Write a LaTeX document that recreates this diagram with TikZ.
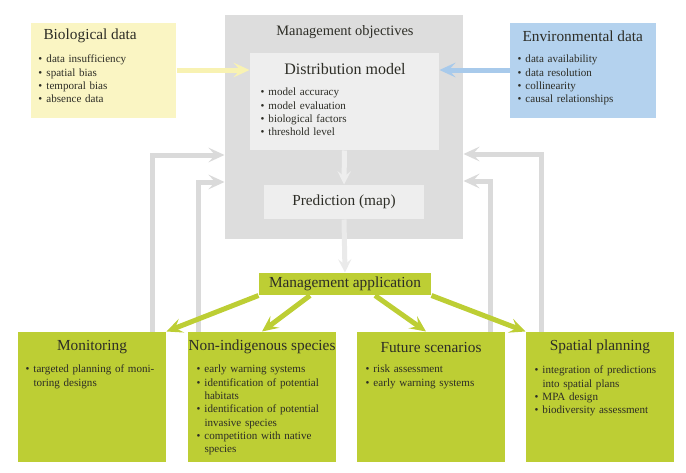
\documentclass[tikz,border=0pt]{standalone}
\usepackage{fontspec}
\setmainfont{Liberation Serif}
\usetikzlibrary{arrows.meta}

\definecolor{biofill}{RGB}{250,245,195}
\definecolor{envfill}{RGB}{180,210,238}
\definecolor{bioarrow}{RGB}{248,242,178}
\definecolor{envarrow}{RGB}{168,202,235}
\definecolor{appgreen}{RGB}{189,206,52}
\definecolor{objgray}{RGB}{221,221,221}
\definecolor{innergray}{RGB}{238,238,238}
\definecolor{fbgray}{RGB}{218,218,218}
\definecolor{txt}{RGB}{45,45,38}

\newcommand{\bitem}[1]{\par\noindent\hangindent=6pt\hangafter=1\makebox[6pt][l]{\textbullet}#1\par}

\tikzset{every picture/.style={line width=0.75pt}}

\begin{document}
\begin{tikzpicture}[x=0.75pt,y=0.75pt,yscale=-1,xscale=1,
  box/.style={rectangle,inner sep=0pt,draw=none},
  title/.style={inner sep=0.75pt,text=txt,font=\fontsize{11.5}{13}\selectfont},
  items/.style={anchor=north west,inner sep=0pt,text width=135pt,align=left,text=txt,font=\fontsize{8.3}{10}\selectfont},
  fb/.style={draw=fbgray,line width=3.75pt,-{Stealth[length=12pt,width=11pt,inset=5pt]}},
  green arrow/.style={draw=appgreen,line width=3.75pt,-{Stealth[length=12pt,width=11pt,inset=5pt]}}]
\useasboundingbox (0,0) rectangle (686,472);

%Shape: Rectangle [Management objectives]
\node[box,fill=objgray,minimum width=178.5pt,minimum height=168pt] (obj) at (344,127) {};
%Shape: Rectangle [Distribution model]
\node[box,fill=innergray,minimum width=141.75pt,minimum height=72.75pt] (dist) at (344.5,101.5) {};
%Shape: Rectangle [Prediction]
\node[box,fill=innergray,minimum width=120pt,minimum height=25.5pt,title] (pred) at (344,202) {Prediction (map)};
%Shape: Rectangle [Biological data]
\node[box,fill=biofill,minimum width=108.75pt,minimum height=71.25pt] (bio) at (103.5,70.5) {};
%Shape: Rectangle [Environmental data]
\node[box,fill=envfill,minimum width=109.5pt,minimum height=71.25pt] (env) at (583,70.5) {};
%Shape: Rectangle [Management application]
\node[box,fill=appgreen,minimum width=129pt,minimum height=16.5pt,title] (app) at (345,284) {Management application};
%Shape: Rectangle [bottom row]
\node[box,fill=appgreen,minimum width=111pt,minimum height=97.5pt] (mon) at (92,397) {};
\node[box,fill=appgreen,minimum width=111pt,minimum height=97.5pt] (nis) at (262,397) {};
\node[box,fill=appgreen,minimum width=111pt,minimum height=97.5pt] (fut) at (431,397) {};
\node[box,fill=appgreen,minimum width=111pt,minimum height=97.5pt] (spa) at (600,397) {};

%Straight Lines [inputs]
\draw[draw=bioarrow,line width=3.75pt,-{Stealth[length=12pt,width=11pt,inset=5pt]}] (bio.east |- 0,70) -- (dist.west |- 0,70);
\draw[draw=envarrow,line width=3.75pt,-{Stealth[length=12pt,width=11pt,inset=5pt]}] (env.west |- 0,70) -- (dist.east |- 0,70);
%Straight Lines [model to application]
\draw[draw=innergray,line width=3.75pt,-{Stealth[length=10pt,width=10pt,inset=4pt]}] (dist.south) -- (pred.north);
\draw[draw=innergray!80!fbgray,line width=3.75pt,-{Stealth[length=10pt,width=10pt,inset=4pt]}] (pred.south) -- (app.north);

%Straight Lines [feedback]
\coordinate (fbA) at (152,155);
\coordinate (fbB) at (198,182);
\coordinate (fbC) at (490,181);
\coordinate (fbD) at (541,154);
\draw[fb] (mon.north -| fbA) |- (obj.west |- fbA);
\draw[fb] (nis.north -| fbB) |- (obj.west |- fbB);
\draw[fb] (fut.north -| fbC) |- (obj.east |- fbC);
\draw[fb] (spa.north -| fbD) |- (obj.east |- fbD);

%Straight Lines [applications]
\coordinate (gB) at (310,0);
\coordinate (gC) at (375,0);
\coordinate (gD) at (426,0);
\draw[green arrow] (app.south west) -- (mon.north east);
\draw[green arrow] (app.south -| gB) -- (nis.north);
\draw[green arrow] (app.south -| gC) -- (fut.north -| gD);
\draw[green arrow] (app.south east) -- (spa.north west);

% Text Node
\node[title,anchor=west] (biot) at (42,36) {Biological data};
\node[items] (bioi) at (38,49) {\bitem{data insufficiency}\bitem{spatial bias}\bitem{temporal bias}\bitem{absence data}};
% Text Node
\node[title,anchor=west] (envt) at (521,36) {Environmental data};
\node[items] (envi) at (517,49) {\bitem{data availability}\bitem{data resolution}\bitem{collinearity}\bitem{causal relationships}};
% Text Node
\node[title,font=\fontsize{10.8}{13}\selectfont] (objt) at (345,32) {Management objectives};
\node[title,font=\fontsize{12}{14}\selectfont] (distt) at (345,69) {Distribution model};
\node[items] (disti) at (260,82) {\bitem{model accuracy}\bitem{model evaluation}\bitem{biological factors}\bitem{threshold level}};
% Text Node
\node[title] (mont) at (92,347) {Monitoring};
\node[items] (moni) at (25,359) {\bitem{targeted planning of moni-\newline toring designs}};
% Text Node
\node[title] (nist) at (262,347) {Non-indigenous species};
\node[items] (nisi) at (196,359) {\bitem{early warning systems}\bitem{identification of potential\newline habitats}\bitem{identification of potential\newline invasive species}\bitem{competition with native\newline species}};
% Text Node
\node[title] (futt) at (431,347) {Future scenarios};
\node[items] (futi) at (365,359) {\bitem{risk assessment}\bitem{early warning systems}};
% Text Node
\node[title] (spat) at (600,347) {Spatial planning};
\node[items] (spai) at (534,360) {\bitem{integration of predictions\newline into spatial plans}\bitem{MPA design}\bitem{biodiversity assessment}};
\end{tikzpicture}
\end{document}
